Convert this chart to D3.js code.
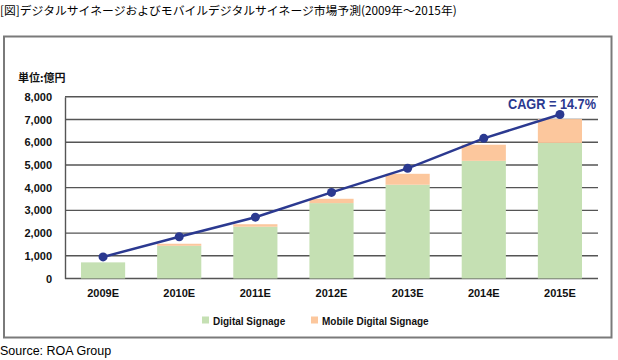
<!DOCTYPE html>
<html><head><meta charset="utf-8">
<script src="https://cdn.jsdelivr.net/npm/d3@7"></script>
<style>
html,body{margin:0;padding:0;background:#fff;}
svg{display:block;}
</style></head>
<body>
<svg id="c" width="618" height="360"></svg>
<script>
const categories = ["2009E","2010E","2011E","2012E","2013E","2014E","2015E"];
const digital = [710, 1440, 2280, 3320, 4130, 5180, 5970];
const mobile  = [0, 90, 110, 190, 480, 710, 1050];
const totalLine = [950, 1840, 2700, 3790, 4850, 6170, 7220];
const yTicks = [0,1000,2000,3000,4000,5000,6000,7000,8000];
const seriesNames = ["Digital Signage","Mobile Digital Signage"];
const colors = ["#c5e0b3","#fcc79d"];

const svg = d3.select("#c");
const jp = "'Noto Sans CJK JP', sans-serif";
const lat = "'Liberation Sans', Arial, sans-serif";

svg.append("text").attr("x",0).attr("y",15).attr("font-family",jp).attr("font-size",11.8).attr("fill","#000")
  .text("[図]デジタルサイネージおよびモバイルデジタルサイネージ市場予測(2009年～2015年)");

svg.append("rect").attr("x",4).attr("y",36.5).attr("width",607.5).attr("height",301)
  .attr("fill","none").attr("stroke","#7a7a7a").attr("stroke-width",2);

svg.append("text").attr("x",0).attr("y",355).attr("font-family",lat).attr("font-size",12.5).attr("fill","#000")
  .text("Source: ROA Group");

const x = d3.scaleBand().domain(categories).range([65,598]).paddingInner(0.42).paddingOuter(0.21);
const y = d3.scaleLinear().domain([0,8000]).range([278.5,96.8]);

// gridlines
svg.append("g").selectAll("line").data(yTicks).join("line")
  .attr("x1",65).attr("x2",598).attr("y1",d=>y(d)).attr("y2",d=>y(d))
  .attr("stroke","#555").attr("stroke-width",1.4);

// y axis
const ya = svg.append("g").attr("transform","translate(65,0)")
  .call(d3.axisLeft(y).tickValues(yTicks).tickFormat(d3.format(",")).tickSize(0).tickPadding(13));
ya.select(".domain").attr("stroke","#555").attr("stroke-width",1.4);
ya.selectAll("text").attr("font-family",lat).attr("font-size",11).attr("font-weight","bold").attr("fill","#111");

// bars
const stack = categories.map((c,i)=>({c, d:digital[i], m:mobile[i]}));
svg.append("g").selectAll("rect").data(stack).join("rect")
  .attr("x",d=>x(d.c)).attr("width",x.bandwidth())
  .attr("y",d=>y(d.d)).attr("height",d=>y(0)-y(d.d)).attr("fill",colors[0]);
svg.append("g").selectAll("rect").data(stack.filter(d=>d.m>0)).join("rect")
  .attr("x",d=>x(d.c)).attr("width",x.bandwidth())
  .attr("y",d=>y(d.d+d.m)).attr("height",d=>y(d.d)-y(d.d+d.m)).attr("fill",colors[1]);

// x labels
svg.append("g").selectAll("text").data(categories).join("text")
  .attr("x",d=>x(d)+x.bandwidth()/2).attr("y",297).attr("text-anchor","middle")
  .attr("font-family",lat).attr("font-size",11).attr("font-weight","bold").attr("fill","#111").text(d=>d);

// line
const pts = categories.map((c,i)=>[x(c)+x.bandwidth()/2, y(totalLine[i])]);
svg.append("path").attr("d",d3.line()(pts)).attr("fill","none").attr("stroke","#2b3990").attr("stroke-width",2.5);
svg.append("g").selectAll("circle").data(pts).join("circle")
  .attr("cx",d=>d[0]).attr("cy",d=>d[1]).attr("r",4.5).attr("fill","#2b3990");

svg.append("text").attr("x",596).attr("y",109).attr("text-anchor","end")
  .attr("font-family",lat).attr("font-size",15).attr("fill","#2b3990").attr("font-weight","bold")
  .attr("textLength",88).attr("lengthAdjust","spacingAndGlyphs")
  .text("CAGR = 14.7%");

// unit
svg.append("text").attr("x",18).attr("y",82).attr("font-family",jp).attr("font-size",11).attr("font-weight","bold").attr("fill","#111")
  .text("単位:億円");

// legend
const leg = [{n:seriesNames[0],c:colors[0],x:202},{n:seriesNames[1],c:colors[1],x:311}];
const lg = svg.append("g").selectAll("g").data(leg).join("g");
lg.append("rect").attr("x",d=>d.x).attr("y",316.5).attr("width",7).attr("height",7).attr("fill",d=>d.c);
lg.append("text").attr("x",d=>d.x+11).attr("y",324.5).attr("font-family",lat).attr("font-size",10).attr("font-weight","bold").attr("fill","#111").text(d=>d.n);
</script>
</body></html>
